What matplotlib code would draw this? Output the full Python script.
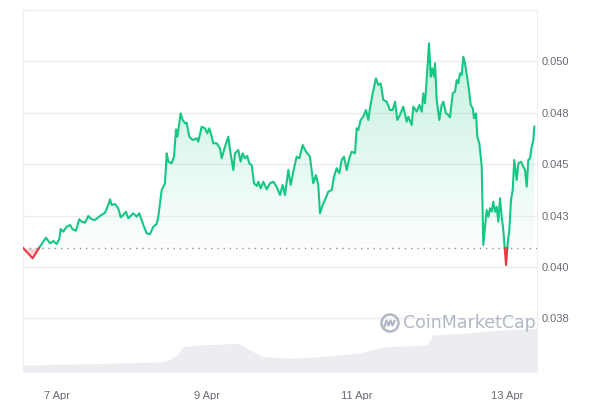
import numpy as np
import matplotlib
matplotlib.use("Agg")
import matplotlib.pyplot as plt
from matplotlib.colors import LinearSegmentedColormap
from matplotlib.path import Path
from matplotlib.patches import Circle

# ---- data (days since 7 Apr 00:00, price in USD) ----
days = [-0.453, -0.324, -0.240, -0.183, -0.147, -0.093, -0.049, -0.004, 0.031, 0.049,
        0.084, 0.129, 0.173, 0.209, 0.253, 0.297, 0.329, 0.373, 0.417, 0.463,
        0.507, 0.573, 0.640, 0.684, 0.707, 0.729, 0.773, 0.817, 0.849, 0.884,
        0.920, 0.951, 1.017, 1.063, 1.097, 1.129, 1.160, 1.196, 1.240, 1.284,
        1.329, 1.351, 1.396, 1.440, 1.463, 1.484, 1.529, 1.560, 1.587, 1.604,
        1.631, 1.649, 1.676, 1.707, 1.729, 1.764, 1.809, 1.863, 1.884, 1.929,
        1.973, 2.004, 2.031, 2.063, 2.084, 2.129, 2.173, 2.196, 2.240, 2.284,
        2.307, 2.351, 2.373, 2.417, 2.449, 2.476, 2.507, 2.537, 2.564, 2.596,
        2.627, 2.663, 2.684, 2.716, 2.751, 2.796, 2.840, 2.884, 2.929, 2.973,
        3.009, 3.040, 3.084, 3.116, 3.160, 3.196, 3.231, 3.276, 3.307, 3.337,
        3.373, 3.417, 3.453, 3.484, 3.507, 3.543, 3.573, 3.617, 3.663, 3.693,
        3.729, 3.764, 3.796, 3.827, 3.863, 3.897, 3.929, 3.973, 3.996, 4.017,
        4.049, 4.084, 4.120, 4.151, 4.173, 4.209, 4.253, 4.284, 4.316, 4.351,
        4.396, 4.440, 4.476, 4.507, 4.537, 4.573, 4.617, 4.663, 4.684, 4.729,
        4.751, 4.796, 4.831, 4.863, 4.884, 4.907, 4.929, 4.960, 4.983, 5.004,
        5.027, 5.040, 5.063, 5.097, 5.129, 5.151, 5.187, 5.217, 5.240, 5.276,
        5.307, 5.329, 5.351, 5.373, 5.396, 5.417, 5.440, 5.471, 5.493, 5.516,
        5.543, 5.560, 5.587, 5.604, 5.631, 5.663, 5.684, 5.707, 5.729, 5.751,
        5.773, 5.796, 5.817, 5.840, 5.863, 5.884, 5.907, 5.929, 5.951, 5.987,
        6.009, 6.031, 6.053, 6.076, 6.097, 6.129, 6.151, 6.187, 6.217, 6.240,
        6.263, 6.284, 6.307, 6.329, 6.351, 6.364]

price = [0.040924, 0.040423, 0.040924, 0.041231, 0.041425, 0.041153, 0.041265, 0.041119, 0.041362, 0.041848,
         0.041717, 0.041960, 0.042043, 0.041834, 0.041766, 0.042320, 0.042203, 0.042155, 0.042481, 0.042320,
         0.042286, 0.042481, 0.042641, 0.043016, 0.043293, 0.043016, 0.043064, 0.042855, 0.042417, 0.042529,
         0.042690, 0.042369, 0.042612, 0.042447, 0.042612, 0.042286, 0.041960, 0.041639, 0.041591, 0.041960,
         0.042092, 0.042447, 0.043745, 0.044071, 0.045530, 0.045122, 0.045044, 0.045365, 0.046698, 0.046338,
         0.046990, 0.047476, 0.047150, 0.046990, 0.047019, 0.046338, 0.046177, 0.046260, 0.046095, 0.046824,
         0.046746, 0.046503, 0.046746, 0.046338, 0.046017, 0.046017, 0.045774, 0.045287, 0.045851, 0.046338,
         0.045691, 0.044718, 0.045530, 0.045691, 0.045122, 0.045530, 0.045287, 0.045399, 0.045044, 0.044961,
         0.044071, 0.043940, 0.044149, 0.043828, 0.044149, 0.043779, 0.044071, 0.044149, 0.043906, 0.043502,
         0.043988, 0.043502, 0.044718, 0.043988, 0.044801, 0.045365, 0.045287, 0.045934, 0.045691, 0.045530,
         0.045365, 0.044071, 0.044475, 0.043988, 0.042612, 0.043016, 0.043259, 0.043663, 0.043745, 0.044392,
         0.044801, 0.044558, 0.045204, 0.045365, 0.044718, 0.045287, 0.045608, 0.045530, 0.046746, 0.046664,
         0.047150, 0.047311, 0.047636, 0.047150, 0.047719, 0.048449, 0.049178, 0.048852, 0.048935, 0.048123,
         0.048040, 0.047636, 0.047636, 0.048040, 0.047150, 0.047393, 0.047797, 0.047067, 0.047311, 0.046907,
         0.047797, 0.047554, 0.047880, 0.047554, 0.048449, 0.047962, 0.049096, 0.050881, 0.049256, 0.049665,
         0.049256, 0.049908, 0.048123, 0.047150, 0.047880, 0.048040, 0.047476, 0.047393, 0.047281, 0.048449,
         0.048527, 0.049096, 0.048935, 0.049422, 0.049339, 0.050229, 0.049908, 0.049178, 0.048609, 0.047880,
         0.047719, 0.047233, 0.047476, 0.046338, 0.046017, 0.044879, 0.041070, 0.041960, 0.042772, 0.042447,
         0.042855, 0.042690, 0.043176, 0.042690, 0.042933, 0.042203, 0.043342, 0.042447, 0.041800, 0.040097,
         0.041153, 0.041800, 0.043259, 0.043745, 0.045204, 0.044232, 0.045044, 0.045122, 0.044879, 0.044718,
         0.043906, 0.045204, 0.045287, 0.045851, 0.046177, 0.046824]

base_price = 0.04092

vol_days = [-0.453, 0.72, 1.44, 1.60, 1.68, 1.907, 2.413, 2.573, 2.72, 3.08,
            3.493, 4.013, 4.373, 4.933, 5.013, 5.40, 5.907, 6.40]
volume = [7.0, 8.7, 10.3, 17.0, 25.3, 27.0, 28.7, 22.0, 16.0, 13.7,
          15.3, 18.7, 25.3, 27.0, 37.0, 38.7, 42.0, 43.7]

xtick_pos = [0, 2, 4, 6]
xtick_labels = ["7 Apr", "9 Apr", "11 Apr", "13 Apr"]
ytick_vals = [0.0375, 0.040, 0.0425, 0.045, 0.0475, 0.050]
ytick_labels = ["0.038", "0.040", "0.043", "0.045", "0.048", "0.050"]

GREEN = "#16c784"
RED = "#ea3943"
GRID = "#eceef2"
TEXT = "#676b72"

# ---- insert baseline crossing points ----
x = np.array(days)
y = np.array(price)
xs, ys = [x[0]], [y[0]]
for i in range(1, len(x)):
    y0, y1 = y[i - 1], y[i]
    if (y0 - base_price) * (y1 - base_price) < 0:
        t = (base_price - y0) / (y1 - y0)
        xs.append(x[i - 1] + t * (x[i] - x[i - 1]))
        ys.append(base_price)
    xs.append(x[i])
    ys.append(y1)
xs = np.array(xs)
ys = np.array(ys)

fig = plt.figure(figsize=(6, 4), dpi=100)
ax = fig.add_axes([23 / 600, 28 / 400, 514 / 600, 362 / 400])
ax2 = ax.twinx()
ax2.set_zorder(0)
ax.set_zorder(1)
ax.patch.set_visible(False)

xmin, xmax = -0.453, 6.40
ymin, ymax = 0.034893, 0.0525

# volume
ax2.fill_between(vol_days, 0, volume, color="#ebedf1", lw=0, zorder=1)
ax2.set_ylim(0, 362)
ax2.set_yticks([])
for s in ax2.spines.values():
    s.set_visible(False)

# gradient green fill
up = np.maximum(ys, base_price)
poly = ax.fill_between(xs, base_price, up, color="none", lw=0)
cmap = LinearSegmentedColormap.from_list(
    "g", [(22 / 255, 199 / 255, 132 / 255, 0.015), (22 / 255, 199 / 255, 132 / 255, 0.26)])
grad = np.linspace(0, 1, 256).reshape(-1, 1)
im = ax.imshow(grad, extent=[xmin, xmax, base_price, 0.0512], origin="lower",
               aspect="auto", cmap=cmap, zorder=1, interpolation="bilinear")
cpath = Path.make_compound_path(*poly.get_paths())
im.set_clip_path(cpath, transform=ax.transData)

# red fill
dn = np.minimum(ys, base_price)
ax.fill_between(xs, dn, base_price, color=RED, alpha=0.22, lw=0, zorder=1)

# baseline
ax.axhline(base_price, color="#8a93a6", lw=1.0, ls=(0, (1, 3.5)), zorder=2)

# lines
g = np.where(ys >= base_price, ys, np.nan)
r = np.where(ys <= base_price, ys, np.nan)
ax.plot(xs, g, color=GREEN, lw=1.5, zorder=3, solid_joinstyle="round")
ax.plot(xs, r, color=RED, lw=1.5, zorder=3, solid_joinstyle="round")

ax.set_xlim(xmin, xmax)
ax.set_ylim(ymin, ymax)
ax2.set_xlim(xmin, xmax)

ax.set_yticks(ytick_vals + [0.0525])
ax.set_yticklabels(ytick_labels + [""])
ax.yaxis.tick_right()
ax.grid(axis="y", color=GRID, lw=1)
ax.set_axisbelow(True)
ax.set_xticks(xtick_pos)
ax.set_xticklabels(xtick_labels)
ax.tick_params(axis="both", length=0, labelsize=8, labelcolor=TEXT)
ax.tick_params(axis="y", pad=3)
ax.tick_params(axis="x", pad=14)
for lab in ax.get_xticklabels() + ax.get_yticklabels():
    lab.set_fontfamily("Liberation Sans")

for side in ["top", "bottom"]:
    ax.spines[side].set_visible(False)
ax.spines["left"].set_color(GRID)
ax.spines["right"].set_color(GRID)

# watermark
wm = "#b1b8c5"
c = Circle((3.90, 0.77), 0.085, transform=fig.dpi_scale_trans, fill=False,
           ec=wm, lw=1.8)
fig.patches.append(c)
mx = np.array([3.845, 3.865, 3.885, 3.905, 3.925, 3.945])
my = np.array([0.735, 0.795, 0.745, 0.795, 0.745, 0.79])
fig.lines.append(plt.Line2D(mx, my, transform=fig.dpi_scale_trans, color=wm, lw=1.6))
fig.text(403 / 600, 1 - 323 / 400, "CoinMarketCap", fontsize=12.5, color=wm,
         va="center", ha="left", fontfamily="DejaVu Sans")

fig.savefig("out.png", dpi=100)
